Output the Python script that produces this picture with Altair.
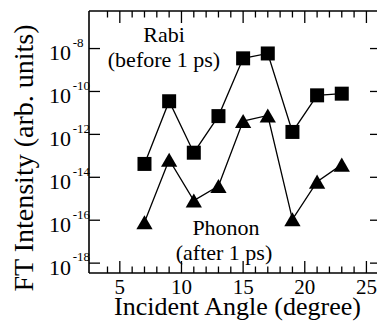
import altair as alt
import pandas as pd

# ---- data ----
angles = [7, 9, 11, 13, 15, 17, 19, 21, 23]
rabi = [4.2e-14, 3.5e-11, 1.4e-13, 7.1e-12, 3.5e-9, 5.9e-9, 1.3e-12, 6.6e-11, 7.9e-11]
phonon = [8.1e-17, 6.6e-14, 8.3e-16, 3.9e-15, 4.2e-12, 7.6e-12, 1.1e-16, 6.3e-15, 3.9e-14]

x_labels = [5, 10, 15, 20, 25]
x_minor = [4, 6, 7, 8, 9, 11, 12, 13, 14, 16, 17, 18, 19, 21, 22, 23, 24]
y_exps = [-8, -10, -12, -14, -16, -18]

annotations = ["Rabi", "(before 1 ps)", "Phonon", "(after 1 ps)"]
ann_x = [75, 75, 137, 135]
ann_y = [31, 55.5, 224, 249]

x_title = "Incident Angle (degree)"
y_title = "FT Intensity (arb. units)"

W, H = 288, 262
FONT = "Liberation Serif"

xs = alt.Scale(domain=[2.5, 2.5 + W / 12.33], nice=False, zero=False)
ys = alt.Scale(type="log", domain=[10 ** -18.46, 10 ** -6.25], nice=False)

df_r = pd.DataFrame({"angle": angles, "value": rabi, "series": "Rabi"})
df_p = pd.DataFrame({"angle": angles, "value": phonon, "series": "Phonon"})
df = pd.concat([df_r, df_p])

X = lambda f: alt.X(f, scale=xs, axis=None)
Y = lambda f: alt.Y(f, scale=ys, axis=None)

lines = alt.Chart(df).mark_line(color="black", strokeWidth=1.3).encode(
    x=X("angle:Q"), y=Y("value:Q"), detail="series:N"
)
squares = alt.Chart(df_r).mark_point(
    shape="square", filled=True, size=196, color="black", opacity=1, strokeWidth=0
).encode(x=X("angle:Q"), y=Y("value:Q"))
triangles = alt.Chart(df_p).mark_point(
    shape="triangle-up", filled=True, size=265, color="black", opacity=1, strokeWidth=0
).encode(x=X("angle:Q"), y=Y("value:Q"))

one = pd.DataFrame({"a": [0]})
frame_kw = dict(color="black", strokeWidth=1.6)
frame_top = alt.Chart(one).mark_rule(**frame_kw).encode(
    x=alt.value(0), x2=alt.value(W), y=alt.value(0))
frame_left = alt.Chart(one).mark_rule(**frame_kw).encode(
    x=alt.value(0), y=alt.value(0), y2=alt.value(H))
frame_bottom = alt.Chart(one).mark_rule(**frame_kw).encode(
    x=alt.value(0), x2=alt.value(W), y=alt.value(H))

tick_kw = dict(color="black", strokeWidth=1.3)
xmaj = pd.DataFrame({"t": x_labels})
xmin = pd.DataFrame({"t": x_minor})
ticks = []
for data, length in [(xmaj, 12), (xmin, 6.5)]:
    ticks.append(alt.Chart(data).mark_rule(**tick_kw).encode(
        x=X("t:Q"), y=alt.value(0), y2=alt.value(length)))
    ticks.append(alt.Chart(data).mark_rule(**tick_kw).encode(
        x=X("t:Q"), y=alt.value(H), y2=alt.value(H - length)))

ydf = pd.DataFrame({"v": [10.0 ** e for e in y_exps], "exp": [str(e) for e in y_exps]})
ticks.append(alt.Chart(ydf).mark_rule(**tick_kw).encode(
    y=Y("v:Q"), x=alt.value(0), x2=alt.value(11)))
ticks.append(alt.Chart(ydf).mark_rule(**tick_kw).encode(
    y=Y("v:Q"), x=alt.value(W - 7), x2=alt.value(W)))

xlab = alt.Chart(xmaj).mark_text(
    font=FONT, fontSize=21, align="center", baseline="alphabetic", color="black"
).encode(x=X("t:Q"), y=alt.value(H + 21), text=alt.Text("t:Q", format="d"))

ybase = alt.Chart(ydf).mark_text(
    font=FONT, fontSize=22, align="right", baseline="alphabetic", dy=11.7, color="black"
).encode(y=Y("v:Q"), x=alt.value(-18), text=alt.value("10"))
yexp = alt.Chart(ydf).mark_text(
    font=FONT, fontSize=13, align="left", baseline="alphabetic", dy=-1.7, color="black"
).encode(y=Y("v:Q"), x=alt.value(-16.3), text="exp:N")

ann_df = pd.DataFrame({"label": annotations, "px": ann_x, "py": ann_y})
ann_layers = []
for i in range(len(annotations)):
    ann_layers.append(alt.Chart(ann_df.iloc[[i]]).mark_text(
        font=FONT, fontSize=22, align="center", baseline="alphabetic", color="black"
    ).encode(x=alt.value(ann_x[i]), y=alt.value(ann_y[i]), text="label:N"))

xt = alt.Chart(pd.DataFrame({"s": [x_title]})).mark_text(
    font=FONT, fontSize=26, align="center", baseline="alphabetic", color="black"
).encode(x=alt.value(148.5), y=alt.value(H + 41.5), text="s:N")
yt = alt.Chart(pd.DataFrame({"s": [y_title]})).mark_text(
    font=FONT, fontSize=28, align="center", baseline="alphabetic", angle=270, color="black"
).encode(x=alt.value(-56), y=alt.value(147), text="s:N")

chart = alt.layer(
    lines, squares, triangles, frame_top, frame_left, frame_bottom,
    *ticks, xlab, ybase, yexp, *ann_layers, xt, yt
).properties(
    width=W, height=H,
    autosize="none",
    padding={"left": 81, "top": 3, "right": 0, "bottom": 48},
    background="white",
).configure_view(stroke=None)

chart.save("out.html", embed_options={"renderer": "svg", "actions": False})
